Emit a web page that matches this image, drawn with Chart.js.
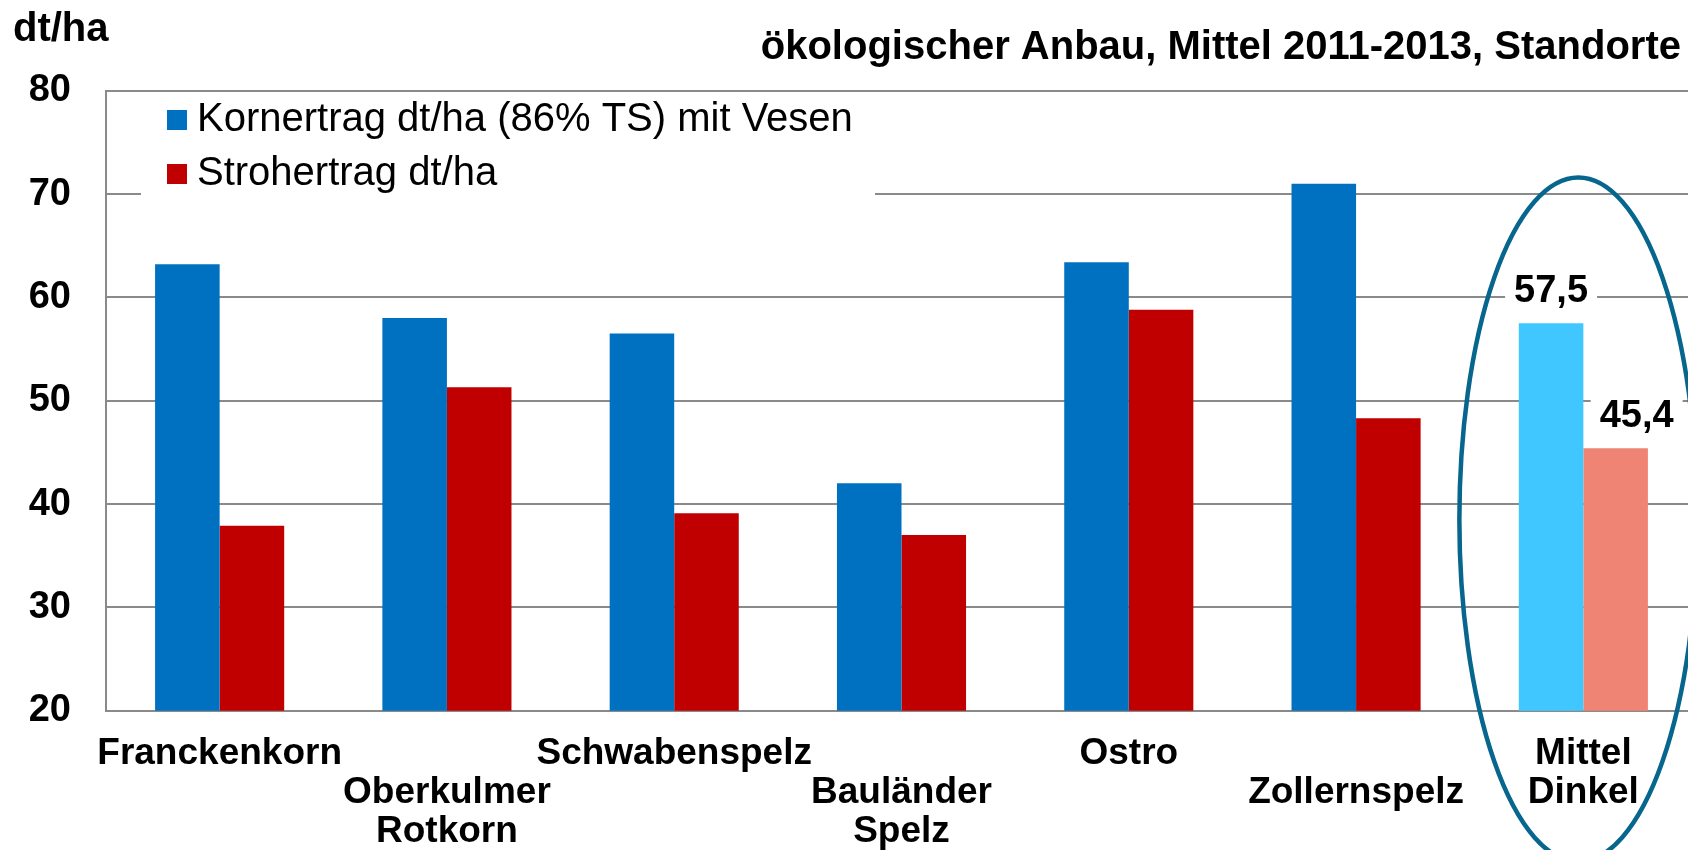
<!DOCTYPE html>
<html>
<head>
<meta charset="utf-8">
<script src="https://cdn.jsdelivr.net/npm/chart.js@4.4.1/dist/chart.umd.min.js"></script>
<style>
  html, body { margin: 0; padding: 0; overflow: hidden; background: #fff; }
</style>
</head>
<body>
<canvas id="yieldChart" width="1700" height="850"></canvas>
<script>
const categories = [
    ['Franckenkorn'],
    ['Oberkulmer', 'Rotkorn'],
    ['Schwabenspelz'],
    ['Bauländer', 'Spelz'],
    ['Ostro'],
    ['Zollernspelz'],
    ['Mittel', 'Dinkel']
];
const kornertrag = [63.2, 58.0, 56.5, 42.0, 63.4, 71.0, 57.5];
const strohertrag = [37.9, 51.3, 39.1, 37.0, 58.8, 48.3, 45.4];
const yMin = 20, yMax = 80, yStep = 10;
const meanIndex = 6;

const titleText = 'ökologischer Anbau, Mittel 2011-2013, Standorte';
const unitText = 'dt/ha';

const FONT = '"Liberation Sans", Arial, sans-serif';
const gridGrey = '#8a8a8a';

function colorsFor(base, highlight) {
    return categories.map((c, i) => i === meanIndex ? highlight : base);
}

const overlay = {
    id: 'overlay',
    afterDatasetsDraw(chart) {
        const ctx = chart.ctx;
        const xs = chart.scales.x, ys = chart.scales.y;
        ctx.save();

        // legend box inside plot
        ctx.fillStyle = '#fff';
        ctx.fillRect(141, 94, 734, 110);
        chart.data.datasets.forEach((ds, i) => {
            const cy = 120 + i * 54;
            ctx.fillStyle = ds.backgroundColor[0];
            ctx.fillRect(167, cy - 10, 20, 20);
            ctx.fillStyle = '#000';
            ctx.font = '40px ' + FONT;
            ctx.textAlign = 'left';
            ctx.textBaseline = 'middle';
            ctx.fillText(ds.label, 197, cy);
        });

        // value labels for the mean group
        const shifts = [0, 21];
        chart.data.datasets.forEach((ds, i) => {
            const bar = chart.getDatasetMeta(i).data[meanIndex];
            const txt = ds.data[meanIndex].toFixed(1).replace('.', ',');
            ctx.font = 'bold 38px ' + FONT;
            const w = ctx.measureText(txt).width;
            const cx = bar.x + shifts[i];
            const base = bar.y - 21;
            ctx.fillStyle = '#fff';
            ctx.fillRect(cx - w / 2 - 9, base - 34, w + 18, 42);
            ctx.fillStyle = '#000';
            ctx.textAlign = 'center';
            ctx.textBaseline = 'alphabetic';
            ctx.fillText(txt, cx, base);
        });

        // ellipse round the mean group
        ctx.strokeStyle = '#07668e';
        ctx.lineWidth = 4.5;
        ctx.beginPath();
        ctx.ellipse(xs.getPixelForValue(meanIndex) - 5, ys.getPixelForValue(38.5), 119, 342, 0, 0, Math.PI * 2);
        ctx.stroke();

        // title and unit
        ctx.fillStyle = '#000';
        ctx.font = 'bold 40px ' + FONT;
        ctx.textBaseline = 'alphabetic';
        ctx.textAlign = 'right';
        ctx.fillText(titleText, 1681, 59);
        ctx.textAlign = 'left';
        ctx.fillText(unitText, 13, 41);

        ctx.restore();
    }
};

const ctx = document.getElementById('yieldChart').getContext('2d');
const yieldChart = new Chart(ctx, {
    type: 'bar',
    data: {
        labels: categories,
        datasets: [{
            label: 'Kornertrag dt/ha (86% TS) mit Vesen',
            data: kornertrag,
            backgroundColor: colorsFor('#0070c0', '#41c7ff')
        }, {
            label: 'Strohertrag dt/ha',
            data: strohertrag,
            backgroundColor: colorsFor('#c00000', '#f08474')
        }]
    },
    options: {
        responsive: false,
        animation: false,
        layout: { padding: { top: 90.7, right: 3, left: 0, bottom: 0 } },
        datasets: {
            bar: { barPercentage: 1, categoryPercentage: 0.568 }
        },
        plugins: {
            legend: { display: false },
            title: { display: false },
            tooltip: { enabled: false }
        },
        scales: {
            x: {
                grid: { display: false, drawTicks: false },
                border: { display: true, color: gridGrey, width: 2 },
                ticks: {
                    color: '#000',
                    padding: 24,
                    maxRotation: 0,
                    autoSkip: false,
                    font: { family: FONT, size: 37, weight: 'bold', lineHeight: 1.05 },
                    callback: (v, i) => i % 2 ? [''].concat(categories[i]) : categories[i]
                },
                afterFit: s => { s.height = 139.3; }
            },
            y: {
                min: yMin,
                max: yMax,
                grid: { color: gridGrey, lineWidth: 2, drawTicks: false },
                border: { display: true, color: gridGrey, width: 2 },
                ticks: {
                    stepSize: yStep,
                    color: '#000',
                    padding: 35,
                    font: { family: FONT, size: 38, weight: 'bold' }
                },
                afterFit: s => { s.width = 106; }
            }
        }
    },
    plugins: [overlay]
});
</script>
</body>
</html>
